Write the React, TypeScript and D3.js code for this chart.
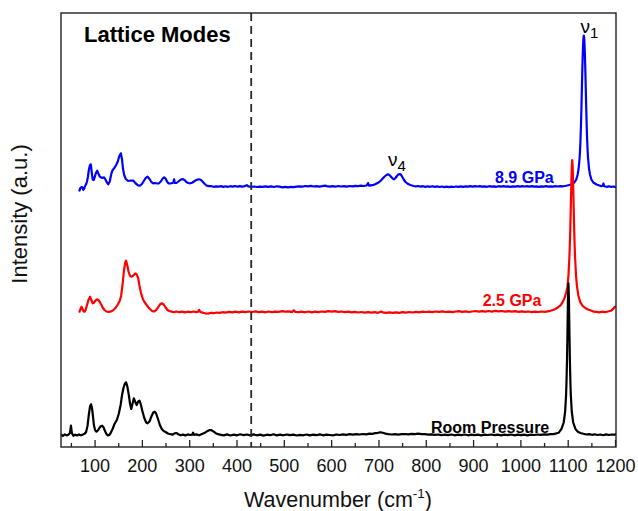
import React from 'react';
import * as d3 from 'd3';

// ---------- data (wavenumber cm^-1, raw intensity a.u. above each baseline) ----------
const xTicks = [100, 200, 300, 400, 500, 600, 700, 800, 900, 1000, 1100, 1200];
const xMinorTicks = [50, 150, 250, 350, 450, 550, 650, 750, 850, 950, 1050, 1150];
const latticeBoundary = 430;

const seriesLabels = ['8.9 GPa', '2.5 GPa', 'Room Pressure'];
const seriesOffsets = [260.5, 135, 12];

const roomPressure: [number, number][] = [
  [30,0],[32,-1],[36,0.6],[40,-0.4],[44,0.5],[47,2],[49,9.3],[51,2],[54,-0.8],[58,0.3],[62,-0.5],[66,0.6],[70,-0.3],[74,0.4],[78,1.2],[81,3],[84,9],[87,21],[89.5,29],[91.5,30.7],[93.5,27],[95.5,19],[97.5,10],[100,5],[103,3.3],[106,4.5],[109,7],[112,8.8],[115,9.3],[118,7.5],[121,4],[124,1],[127,-0.5],[130,0],[133,2],[137,6],[141,11],[146,15],[150,21],[154,30],[157,40],[160,47],[163,51.5],[165.5,52.7],[168,49],[171,41],[174,31],[176.5,26],[179,31],[182,36.7],[185,33],[188,30],[191,33.5],[194,34.3],[197,30],[200,24],[204,17],[208,12.5],[211,11.7],[215,13.5],[219,18.5],[223,22.5],[226,23.3],[229,21.5],[233,16],[237,10],[241,6],[245,4],[249,3],[254,1.5],[259,0.8],[264,0.3],[268,1.7],[272,2],[276,0.8],[281,-0.3],[286,0.4],[291,-0.5],[296,0.6],[301,0],[305,0.3],[307,2.3],[309,0.2],[314,0.6],[320,-0.3],[326,1],[332,2.2],[337,3.8],[342,5],[346,4.8],[350,3.6],[355,1.8],[360,0.8],[366,0.2],[372,-0.4],[379,0.6],[386,-0.5],[393,0.4],[400,-0.3],[407,0.7],[414,-0.2],[421,0.5],[428,-0.4],[435,0.6],[442,-0.3],[449,0.4],[456,-0.6],[463,0.3],[470,-0.2],[477,0.7],[484,-0.4],[491,0.3],[498,-0.3],[505,0.5],[512,-0.2],[519,0.4],[526,-0.5],[533,0.2],[540,-0.3],[547,0.5],[554,-0.4],[561,0.3],[568,-0.2],[575,0.6],[582,-0.3],[589,0.4],[596,0],[603,-0.4],[610,0.5],[617,0],[624,0.6],[631,0.2],[638,0.8],[645,0.4],[652,0.9],[659,0.5],[666,1],[673,0.7],[680,1.3],[686,1.2],[692,1.8],[698,2.2],[703,2.8],[708,2.2],[714,1.4],[720,0.9],[727,0.5],[734,0.9],[741,0.3],[748,0.8],[755,1],[762,0.6],[769,1.2],[776,0.9],[783,1.3],[790,0.8],[797,0.9],[804,0.4],[811,0.7],[818,0.1],[825,0.5],[832,-0.2],[839,0.4],[846,-0.1],[853,0.5],[860,-0.3],[867,0.3],[874,-0.2],[881,0.5],[888,-0.3],[895,0.4],[902,-0.2],[909,0.3],[916,-0.4],[923,0.4],[930,0],[937,0.5],[944,-0.2],[951,0.3],[958,-0.3],[965,0.4],[972,-0.1],[979,0.5],[986,-0.3],[993,0.3],[1000,-0.2],[1007,0.4],[1014,-0.3],[1021,0.4],[1028,0],[1035,0.5],[1042,0.1],[1049,0.6],[1056,0.3],[1063,0.8],[1069,0.9],[1075,1.6],[1080,2.3],[1085.5,5.8],[1090.5,12.5],[1093.5,23.5],[1095.5,40],[1096.5,55],[1097.5,76],[1098.5,105],[1099.5,136],[1100.5,151.7],[1101.5,136],[1102.5,105],[1103.5,76],[1104.5,55],[1105.5,40],[1107.5,23.5],[1110.5,12.5],[1115.5,5.8],[1121,3],[1126,2],[1132,1.2],[1138,0.5],[1144,0.9],[1150,0.2],[1156,0.7],[1162,0],[1168,0.5],[1174,-0.2],[1180,0.6],[1186,0],[1192,0.5],[1198,0.3],[1200,0.6]
];

const gpa25: [number, number][] = [
  [67,0.3],[69,2.5],[71.5,5.3],[73.5,3],[76,0.5],[78,0.3],[80,2],[83,7],[86,12],[89.5,15.3],[92,12],[95,8.7],[98,9.5],[101,11.5],[104,12.7],[107,12],[110,10],[113,7.5],[116,4.5],[120,2],[124,0.5],[128,0.2],[132,0.3],[136,1],[140,2.5],[144,4.5],[148,7.5],[152,11],[155,16],[158,27],[161,41],[163.5,49],[165.5,51.3],[168,47],[171,40],[174,36],[177,35.3],[181,36.5],[185,38.5],[188,37.7],[191,34],[194,26],[197,19],[201,13],[205,9.5],[209,7],[213,4.5],[217,2.5],[221,0.8],[225,0.5],[229,1.8],[233,4.5],[237,7.5],[241,8.7],[245,7.5],[249,4.5],[253,2],[257,1],[262,0.4],[267,-0.3],[272,0.5],[278,-0.2],[284,0.4],[290,-0.4],[296,0.3],[302,-0.2],[308,0.5],[314,-0.1],[318,0.4],[320,2.2],[322,0.3],[327,-0.6],[333,-1.3],[339,-1.6],[345,-0.8],[351,-1.2],[357,-0.5],[363,-0.9],[369,-0.2],[376,-0.6],[383,0.1],[390,-0.4],[397,0.3],[404,-0.3],[411,0.4],[418,-0.2],[425,0.5],[432,0],[439,0.6],[446,-0.1],[453,0.4],[460,-0.3],[467,0.5],[474,-0.2],[481,0.4],[488,0.2],[495,0.8],[502,0.3],[509,0.6],[516,-0.1],[520,1.8],[523,0.2],[530,-0.2],[537,0.4],[544,-0.3],[551,0.5],[558,-0.4],[565,0.3],[572,-0.2],[579,0.5],[586,0.1],[593,0.8],[600,0.3],[607,0.9],[614,0.2],[621,0.5],[628,-0.2],[635,0.3],[642,-0.4],[649,0.2],[656,-0.5],[663,0],[670,-0.6],[677,-0.1],[684,-0.7],[691,-0.2],[698,-0.8],[705,0.5],[708,-0.3],[715,-0.9],[722,-0.4],[729,-0.8],[736,-0.3],[743,-0.9],[750,-0.2],[757,-0.6],[764,0],[771,-0.5],[778,0.1],[785,-0.3],[792,0.4],[799,0],[806,0.3],[813,-0.2],[820,0.5],[827,0.1],[834,0.6],[841,0],[848,0.4],[855,-0.1],[862,0.5],[869,0.8],[876,0.2],[883,0.6],[890,0],[897,0.5],[904,1],[911,0.4],[918,0.8],[925,0.3],[932,1],[939,0.4],[946,1.2],[953,0.6],[960,1],[967,0.4],[974,0.9],[981,0.3],[988,0.8],[995,0.2],[1002,0.7],[1009,0.1],[1016,0.5],[1023,-0.1],[1030,0.4],[1037,0],[1044,0.5],[1051,0.2],[1056,0.6],[1062,1.2],[1068,2],[1073,3],[1078,4.5],[1083.5,6.6],[1086.5,8.5],[1091.5,13],[1095.5,19],[1098.5,25.6],[1100.5,36.5],[1102.5,54.7],[1103.5,68],[1104.5,84.9],[1105.5,105.3],[1106.5,126.9],[1107.5,144.9],[1108.5,152],[1109.5,144.9],[1110.5,126.9],[1111.5,105.3],[1112.5,84.9],[1113.5,68],[1114.5,54.7],[1116.5,36.5],[1118.5,25.6],[1121.5,16.3],[1125.5,9.9],[1130.5,6.1],[1136,4],[1142,2.5],[1148,1.5],[1154,0.3],[1160,0.2],[1166,-0.3],[1172,0.3],[1178,-0.2],[1184,0.5],[1190,1.2],[1195,3],[1198,5],[1200,5.5]
];

const gpa89: [number, number][] = [
  [67,-4],[69,-1.5],[71.5,-0.5],[73.5,-1],[75,-3.5],[77,-2],[79,0.5],[81,2.2],[83,5],[85,10],[87,17],[89,21],[91,22.2],[93,14],[95,7],[97,6.5],[99,9],[101.5,13],[104.5,15.8],[107,13],[110,10],[112,9.2],[115,8.5],[119,9.2],[122,7],[125,4],[128,2.2],[131,5],[134,12],[136.5,15.8],[139,17.5],[141.5,19],[144.5,21.5],[148,25],[151,30],[154.5,33.2],[157,27],[159,18],[161.5,11.5],[165,7.5],[170,5.5],[175,6],[181,5.8],[186,3],[191,1.2],[195,0.8],[199,2.5],[203,5.5],[207,8.5],[211,9.8],[215,7.5],[219,4.5],[223,3.2],[227,3.5],[231,3],[235,3.2],[239,5],[243,8],[246,9.2],[249,8],[252,5],[255,3.2],[259,3],[263,3.5],[265.5,4],[267,7.2],[268.5,3.5],[272,3.5],[276,5],[280,6.5],[285,7.5],[289,6.5],[293,4.5],[297,3.5],[301,3.2],[305,3.8],[309,5],[313,6.2],[317,7],[320,7.2],[324,6.5],[328,4.5],[332,2.5],[336,0.8],[341,0.4],[346,0.3],[351,-0.3],[356,0.2],[361,-0.2],[366,0.4],[371,-0.4],[376,0.2],[381,-0.3],[386,0.3],[391,-0.1],[396,0.5],[401,-0.2],[406,0.3],[411,-0.2],[416,0.4],[421,1.3],[424,0.2],[430,-0.3],[436,0],[442,-0.5],[448,-0.1],[454,-0.3],[460,0.2],[466,-0.4],[472,0.1],[478,-0.5],[484,0.2],[490,-0.2],[496,-0.8],[502,-0.3],[508,-0.9],[514,-0.4],[520,-0.7],[526,-0.1],[532,0.2],[538,-0.2],[544,0.5],[550,0.1],[556,0.6],[562,0],[568,0.4],[574,-0.2],[580,0.3],[586,0.9],[590,0.4],[596,-0.1],[602,0.3],[608,-0.2],[614,0.5],[620,0],[626,0.4],[632,-0.1],[638,0.5],[644,0.1],[650,0.7],[656,0.3],[662,0.8],[668,0.5],[674,1],[677,3.5],[679,0.8],[683,1.2],[688,1.6],[692,2.2],[696,3.2],[700,4.2],[704,6],[708,8],[712,10],[716,11.5],[719,12.2],[722,11.5],[726,9.5],[729,8],[732,7.2],[735,8.5],[738,10.5],[741,12],[744,12.5],[747,11.5],[750,9],[753,6.5],[756,4.5],[760,3],[764,2],[768,1.2],[773,0.5],[778,0.2],[783,0.5],[788,-0.2],[793,0.3],[798,-0.4],[803,0.2],[808,-0.3],[813,0.3],[818,-0.4],[823,0.1],[828,-0.5],[833,0],[838,-0.6],[843,-0.2],[848,-0.7],[853,-0.2],[858,-0.5],[863,0],[868,-0.4],[873,0.1],[878,-0.3],[883,0.2],[888,-0.2],[893,0.3],[898,-0.1],[903,0.4],[908,0],[913,0.3],[918,-0.2],[923,0.2],[928,-0.3],[933,0.3],[938,-0.2],[943,0.2],[948,-0.3],[953,0.3],[958,-0.1],[963,0.3],[968,-0.2],[973,0.2],[978,-0.3],[983,0.2],[988,-0.2],[993,0.3],[998,-0.1],[1003,0.4],[1008,0],[1013,0.3],[1018,-0.2],[1023,0.3],[1028,-0.1],[1033,0.2],[1038,-0.3],[1043,0.2],[1048,-0.2],[1053,0.3],[1058,-0.1],[1063,0.2],[1068,-0.2],[1073,0.3],[1078,0],[1083,0.4],[1088,0.2],[1093,0.5],[1098,1],[1106,2],[1113,4],[1117,7],[1120,12],[1122,18],[1124,28],[1125,36],[1126,47],[1127,62],[1128,80],[1129,100],[1130,120],[1131,136],[1132,147],[1133,151],[1134,147],[1135,136],[1136,120],[1137,100],[1138,80],[1139,62],[1140,47],[1141,36],[1142,28],[1144,18],[1146,12],[1149,7],[1153,4],[1160,2],[1166,1],[1170,0.4],[1173,0.6],[1174.5,3],[1176,0.3],[1181,-0.3],[1186,0.2],[1191,-0.4],[1196,0],[1199,-0.6]
];

const spectra = [gpa89, gpa25, roomPressure];

// ---------- styling / layout ----------
const W = 638;
const H = 511;
const M = { left: 61, right: 616, top: 13, bottom: 447 };
const COLORS = ['#0000FF', '#FF0000', '#000000'];
const FONT = '"Liberation Sans", Arial, Helvetica, sans-serif';

export default function App() {
  const x = d3.scaleLinear().domain([28, 1201]).range([M.left, M.right]);
  const y = d3.scaleLinear().domain([0, 434]).range([M.bottom, M.top]);

  const makeLine = (offset: number) =>
    d3
      .line<[number, number]>()
      .x((d) => x(d[0]))
      .y((d) => y(d[1] + offset))
      .curve(d3.curveLinear);

  return (
    <svg
      width={W}
      height={H}
      viewBox={`0 0 ${W} ${H}`}
      style={{ position: 'absolute', left: 0, top: 0, display: 'block', background: '#fff' }}
      fontFamily={FONT}
    >
      <rect x={0} y={0} width={W} height={H} fill="#fff" />
      <defs>
        <clipPath id="plotClip">
          <rect x={M.left} y={M.top} width={M.right - M.left} height={M.bottom - M.top} />
        </clipPath>
      </defs>

      {/* spectra */}
      <g clipPath="url(#plotClip)">
        {spectra.map((s, i) => (
          <path
            key={i}
            d={makeLine(seriesOffsets[i])(s) || ''}
            fill="none"
            stroke={COLORS[i]}
            strokeWidth={2.2}
            strokeLinejoin="round"
            strokeLinecap="round"
          />
        ))}
      </g>

      {/* dashed separator */}
      <line
        x1={x(latticeBoundary)}
        x2={x(latticeBoundary)}
        y1={M.top}
        y2={M.bottom}
        stroke="#2a2a2a"
        strokeWidth={1.8}
        strokeDasharray="8,5"
      />

      {/* frame */}
      <rect
        x={M.left}
        y={M.top}
        width={M.right - M.left}
        height={M.bottom - M.top}
        fill="none"
        stroke="#222"
        strokeWidth={1.4}
      />

      {/* ticks */}
      {xTicks.map((t) => (
        <g key={'t' + t}>
          <line x1={x(t)} x2={x(t)} y1={M.bottom} y2={M.bottom - 7} stroke="#222" strokeWidth={1.3} />
          <text x={x(t)} y={471.5} textAnchor="middle" fontSize={18} fill="#111">
            {t}
          </text>
        </g>
      ))}
      {xMinorTicks.map((t) => (
        <line key={'m' + t} x1={x(t)} x2={x(t)} y1={M.bottom} y2={M.bottom - 4} stroke="#222" strokeWidth={1.3} />
      ))}

      {/* axis titles */}
      <text x={338} y={506.5} textAnchor="middle" fontSize={21.5} fill="#111">
        Wavenumber (cm
        <tspan fontSize={13.5} dy={-9}>-1</tspan>
        <tspan dy={9}>)</tspan>
      </text>
      <text transform="translate(27,214) rotate(-90)" textAnchor="middle" fontSize={22} fill="#111">
        Intensity (a.u.)
      </text>

      {/* annotations */}
      <text x={84} y={41.5} fontSize={22} fontWeight="bold" fill="#000">
        Lattice Modes
      </text>
      <text x={495} y={183.3} fontSize={16} fontWeight="bold" fill={COLORS[0]}>
        {seriesLabels[0]}
      </text>
      <text x={482.7} y={306} fontSize={16} fontWeight="bold" fill={COLORS[1]}>
        {seriesLabels[1]}
      </text>
      <text x={431} y={432.7} fontSize={16} fontWeight="bold" fill={COLORS[2]}>
        {seriesLabels[2]}
      </text>

      <text x={580.5} y={33.3} fontSize={19} fill="#000">
        ν<tspan fontSize={15} dy={5}>1</tspan>
      </text>
      <text x={388} y={166} fontSize={19} fill="#000">
        ν<tspan fontSize={15} dy={4.7}>4</tspan>
      </text>
    </svg>
  );
}
